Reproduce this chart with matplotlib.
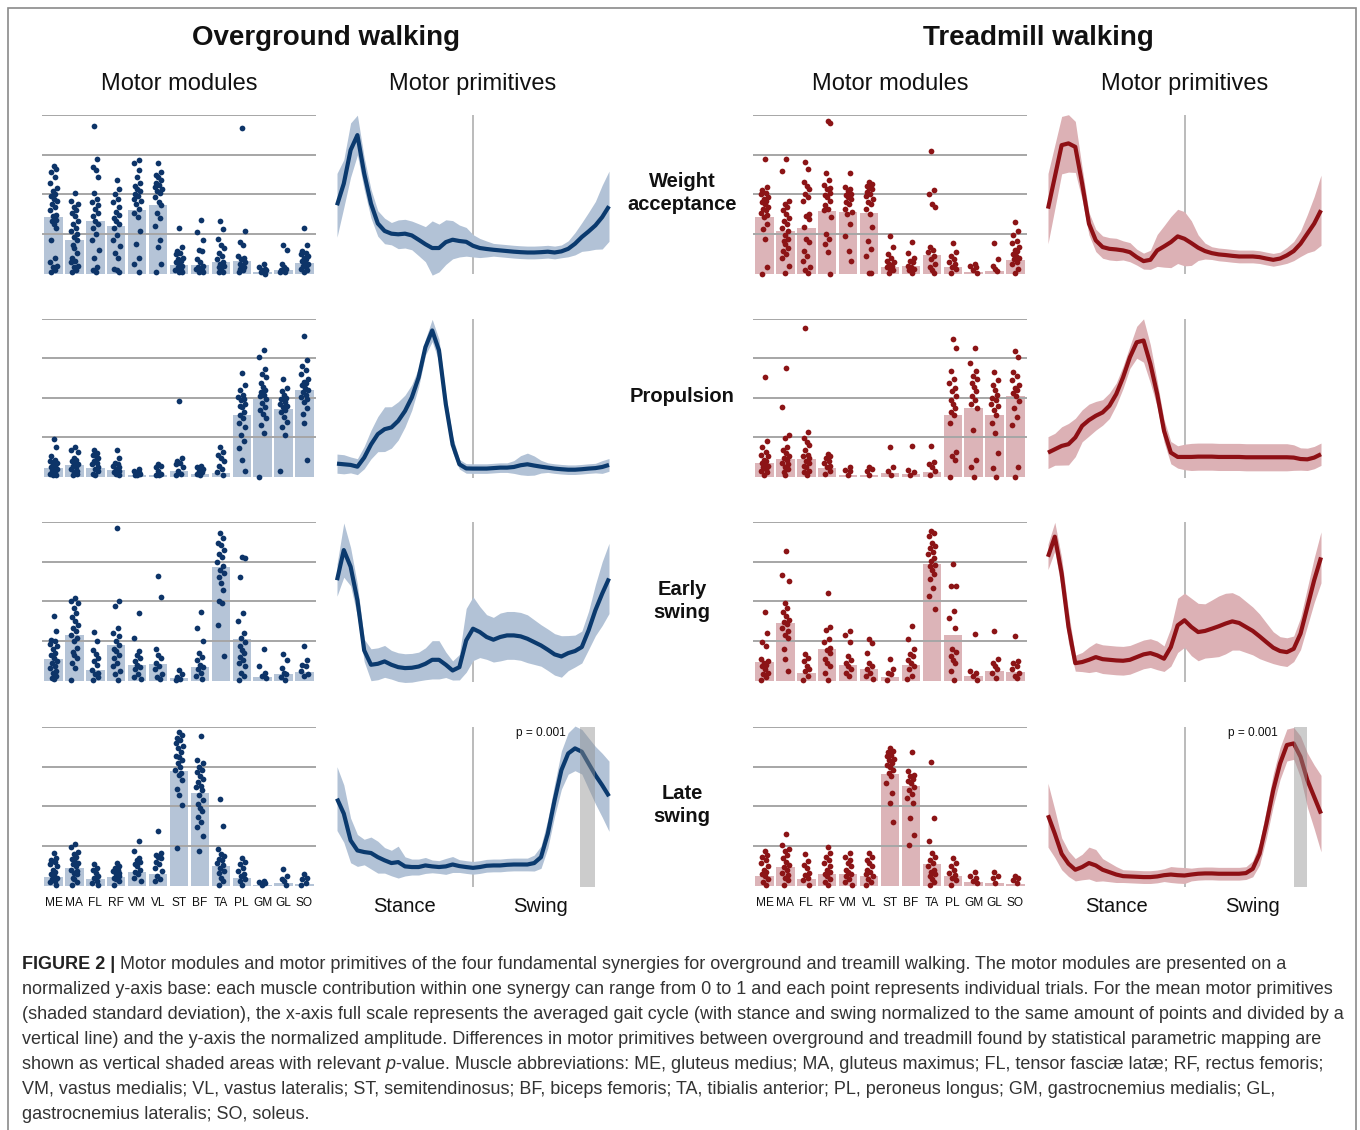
import numpy as np
import matplotlib
matplotlib.use("Agg")
import matplotlib.pyplot as plt
from matplotlib.patches import Rectangle

plt.rcParams['font.family'] = ['Liberation Sans', 'DejaVu Sans']

# ---------------- DATA ----------------
MUSCLES = ["ME", "MA", "FL", "RF", "VM", "VL", "ST", "BF", "TA", "PL", "GM", "GL", "SO"]
SYNERGIES = ["Weight\nacceptance", "Propulsion", "Early\nswing", "Late\nswing"]
GAIT = list(range(0, 201, 5))  # samples: 0-100 stance, 100-200 swing

# Motor modules: bar heights (mean)
OG_WA_BAR = [0.355, 0.21, 0.33, 0.30, 0.40, 0.435, 0.055, 0.055, 0.07, 0.08, 0.01, 0.02, 0.068]
OG_PR_BAR = [0.055, 0.075, 0.055, 0.045, 0.013, 0.013, 0.038, 0.02, 0.027, 0.39, 0.495, 0.43, 0.547]
OG_ES_BAR = [0.138, 0.29, 0.065, 0.226, 0.10, 0.107, 0.017, 0.086, 0.713, 0.262, 0.023, 0.038, 0.052]
OG_LS_BAR = [0.055, 0.108, 0.038, 0.055, 0.085, 0.07, 0.72, 0.583, 0.123, 0.049, 0.006, 0.017, 0.01]
TM_WA_BAR = [0.355, 0.266, 0.29, 0.397, 0.387, 0.38, 0.044, 0.049, 0.116, 0.038, 0.01, 0.017, 0.087]
TM_PR_BAR = [0.09, 0.112, 0.112, 0.055, 0.01, 0.01, 0.023, 0.02, 0.03, 0.392, 0.435, 0.392, 0.508]
TM_ES_BAR = [0.116, 0.364, 0.048, 0.20, 0.099, 0.074, 0.023, 0.10, 0.733, 0.29, 0.027, 0.057, 0.053]
TM_LS_BAR = [0.057, 0.116, 0.04, 0.074, 0.074, 0.061, 0.705, 0.63, 0.137, 0.057, 0.019, 0.015, 0.01]

# Motor modules: individual trials
OG_WA_PTS = [
    [0.68, 0.66, 0.64, 0.61, 0.57, 0.54, 0.52, 0.50, 0.49, 0.47, 0.46, 0.44, 0.42, 0.40, 0.37, 0.36, 0.34, 0.33, 0.31, 0.29, 0.21, 0.10, 0.07, 0.05, 0.04, 0.02, 0.01],
    [0.51, 0.46, 0.44, 0.42, 0.40, 0.38, 0.36, 0.33, 0.31, 0.29, 0.27, 0.25, 0.23, 0.21, 0.18, 0.16, 0.13, 0.10, 0.08, 0.07, 0.05, 0.04, 0.02, 0.01],
    [0.93, 0.725, 0.67, 0.65, 0.61, 0.51, 0.47, 0.45, 0.43, 0.41, 0.38, 0.36, 0.33, 0.31, 0.29, 0.25, 0.21, 0.15, 0.10, 0.04, 0.02, 0.01],
    [0.59, 0.53, 0.50, 0.47, 0.45, 0.42, 0.39, 0.37, 0.35, 0.33, 0.31, 0.29, 0.24, 0.21, 0.175, 0.13, 0.10, 0.03, 0.02, 0.01],
    [0.715, 0.70, 0.65, 0.61, 0.57, 0.55, 0.53, 0.52, 0.50, 0.49, 0.47, 0.46, 0.44, 0.41, 0.38, 0.355, 0.27, 0.185, 0.10, 0.06, 0.01],
    [0.70, 0.64, 0.62, 0.61, 0.59, 0.57, 0.56, 0.545, 0.53, 0.52, 0.51, 0.48, 0.45, 0.43, 0.38, 0.35, 0.30, 0.21, 0.165, 0.06, 0.01],
    [0.29, 0.17, 0.14, 0.13, 0.12, 0.10, 0.09, 0.08, 0.07, 0.06, 0.05, 0.04, 0.03, 0.02, 0.02, 0.01, 0.01],
    [0.34, 0.26, 0.21, 0.15, 0.14, 0.09, 0.07, 0.05, 0.04, 0.03, 0.03, 0.02, 0.01, 0.01],
    [0.33, 0.28, 0.22, 0.18, 0.16, 0.13, 0.11, 0.09, 0.07, 0.06, 0.05, 0.04, 0.02, 0.01, 0.01],
    [0.92, 0.27, 0.20, 0.18, 0.11, 0.10, 0.09, 0.07, 0.06, 0.05, 0.04, 0.03, 0.02, 0.01],
    [0.06, 0.04, 0.03, 0.02, 0.02, 0.01, 0.01, 0.0],
    [0.18, 0.15, 0.06, 0.04, 0.03, 0.02, 0.01, 0.01],
    [0.29, 0.18, 0.14, 0.13, 0.12, 0.11, 0.10, 0.09, 0.08, 0.07, 0.06, 0.05, 0.04, 0.03, 0.02, 0.01],
]
OG_PR_PTS = [
    [0.24, 0.19, 0.13, 0.11, 0.10, 0.09, 0.08, 0.07, 0.06, 0.05, 0.05, 0.04, 0.03, 0.02, 0.01, 0.01],
    [0.19, 0.17, 0.16, 0.12, 0.11, 0.10, 0.09, 0.08, 0.07, 0.06, 0.05, 0.04, 0.03, 0.02, 0.01],
    [0.17, 0.15, 0.14, 0.13, 0.12, 0.10, 0.09, 0.08, 0.06, 0.05, 0.04, 0.02, 0.01],
    [0.17, 0.12, 0.09, 0.08, 0.07, 0.06, 0.05, 0.04, 0.03, 0.02, 0.01],
    [0.05, 0.04, 0.03, 0.02, 0.02, 0.01, 0.01],
    [0.08, 0.07, 0.06, 0.04, 0.02, 0.01, 0.01],
    [0.48, 0.12, 0.10, 0.09, 0.08, 0.06, 0.04, 0.02, 0.01],
    [0.07, 0.06, 0.05, 0.04, 0.03, 0.02, 0.01],
    [0.19, 0.16, 0.14, 0.12, 0.10, 0.07, 0.05, 0.03, 0.01],
    [0.656, 0.58, 0.55, 0.52, 0.505, 0.49, 0.485, 0.46, 0.45, 0.44, 0.41, 0.39, 0.37, 0.34, 0.315, 0.265, 0.23, 0.18, 0.105, 0.035],
    [0.80, 0.757, 0.68, 0.65, 0.63, 0.59, 0.57, 0.55, 0.537, 0.52, 0.51, 0.495, 0.47, 0.44, 0.42, 0.40, 0.37, 0.327, 0.275, 0.0],
    [0.62, 0.564, 0.54, 0.516, 0.50, 0.49, 0.474, 0.46, 0.45, 0.44, 0.42, 0.41, 0.38, 0.35, 0.317, 0.264, 0.038],
    [0.887, 0.736, 0.70, 0.673, 0.65, 0.62, 0.60, 0.59, 0.58, 0.56, 0.55, 0.537, 0.52, 0.505, 0.49, 0.474, 0.438, 0.40, 0.342, 0.107],
]
OG_ES_PTS = [
    [0.405, 0.31, 0.258, 0.25, 0.23, 0.216, 0.20, 0.174, 0.16, 0.143, 0.12, 0.111, 0.09, 0.08, 0.06, 0.048, 0.03, 0.017, 0.01],
    [0.52, 0.50, 0.49, 0.46, 0.426, 0.40, 0.373, 0.35, 0.331, 0.31, 0.289, 0.27, 0.247, 0.205, 0.18, 0.16, 0.143, 0.11, 0.08, 0.006],
    [0.306, 0.247, 0.195, 0.17, 0.143, 0.12, 0.10, 0.069, 0.05, 0.038, 0.02, 0.006],
    [0.96, 0.50, 0.47, 0.331, 0.30, 0.279, 0.25, 0.226, 0.20, 0.184, 0.16, 0.143, 0.11, 0.09, 0.06, 0.038, 0.006],
    [0.426, 0.268, 0.184, 0.16, 0.143, 0.12, 0.10, 0.085, 0.07, 0.04, 0.02, 0.01],
    [0.66, 0.524, 0.199, 0.164, 0.14, 0.111, 0.09, 0.07, 0.04, 0.02, 0.01],
    [0.069, 0.038, 0.02, 0.01, 0.006],
    [0.432, 0.331, 0.247, 0.174, 0.15, 0.132, 0.10, 0.085, 0.07, 0.05, 0.03, 0.01],
    [0.93, 0.90, 0.87, 0.855, 0.824, 0.80, 0.78, 0.75, 0.72, 0.70, 0.677, 0.65, 0.614, 0.572, 0.50, 0.49, 0.352, 0.157],
    [0.782, 0.775, 0.656, 0.426, 0.373, 0.30, 0.268, 0.24, 0.216, 0.19, 0.174, 0.15, 0.132, 0.11, 0.09, 0.05, 0.03, 0.006],
    [0.20, 0.09, 0.05, 0.03, 0.017],
    [0.17, 0.132, 0.08, 0.05, 0.038, 0.02, 0.006],
    [0.22, 0.132, 0.10, 0.09, 0.06, 0.04, 0.03],
]
OG_LS_PTS = [
    [0.208, 0.176, 0.16, 0.15, 0.133, 0.12, 0.10, 0.085, 0.07, 0.06, 0.05, 0.038, 0.03, 0.02, 0.006],
    [0.26, 0.24, 0.21, 0.197, 0.18, 0.165, 0.15, 0.14, 0.133, 0.12, 0.10, 0.09, 0.08, 0.07, 0.05, 0.038, 0.02, 0.006],
    [0.138, 0.112, 0.10, 0.08, 0.06, 0.046, 0.03, 0.017, 0.006],
    [0.144, 0.123, 0.11, 0.10, 0.09, 0.08, 0.07, 0.06, 0.05, 0.04, 0.03, 0.006],
    [0.278, 0.218, 0.176, 0.16, 0.15, 0.133, 0.12, 0.10, 0.085, 0.07, 0.05, 0.028],
    [0.345, 0.208, 0.19, 0.18, 0.176, 0.15, 0.133, 0.11, 0.09, 0.06, 0.04, 0.028],
    [0.97, 0.95, 0.93, 0.92, 0.896, 0.88, 0.87, 0.843, 0.82, 0.81, 0.79, 0.77, 0.75, 0.727, 0.71, 0.695, 0.663, 0.61, 0.568, 0.51, 0.235],
    [0.943, 0.79, 0.77, 0.75, 0.73, 0.716, 0.69, 0.674, 0.65, 0.63, 0.62, 0.60, 0.568, 0.54, 0.515, 0.49, 0.472, 0.43, 0.40, 0.367, 0.313, 0.218],
    [0.547, 0.377, 0.229, 0.2, 0.186, 0.17, 0.16, 0.144, 0.13, 0.112, 0.09, 0.08, 0.05, 0.03, 0.006],
    [0.176, 0.15, 0.133, 0.11, 0.09, 0.07, 0.06, 0.04, 0.03, 0.006],
    [0.028, 0.02, 0.017, 0.006],
    [0.106, 0.06, 0.04, 0.028, 0.006],
    [0.07, 0.05, 0.038, 0.017, 0.006],
]
TM_WA_PTS = [
    [0.72, 0.545, 0.524, 0.51, 0.50, 0.482, 0.47, 0.46, 0.45, 0.44, 0.42, 0.41, 0.40, 0.38, 0.37, 0.355, 0.313, 0.28, 0.218, 0.038, 0.0],
    [0.72, 0.647, 0.46, 0.44, 0.42, 0.40, 0.376, 0.35, 0.33, 0.313, 0.29, 0.27, 0.24, 0.22, 0.207, 0.186, 0.16, 0.144, 0.12, 0.10, 0.05, 0.006],
    [0.704, 0.657, 0.577, 0.555, 0.535, 0.503, 0.48, 0.46, 0.376, 0.36, 0.345, 0.292, 0.218, 0.2, 0.144, 0.11, 0.08, 0.038, 0.02, 0.006],
    [0.962, 0.951, 0.636, 0.588, 0.56, 0.54, 0.535, 0.51, 0.493, 0.48, 0.46, 0.43, 0.41, 0.40, 0.355, 0.25, 0.22, 0.186, 0.133, 0.0],
    [0.634, 0.545, 0.53, 0.52, 0.50, 0.493, 0.48, 0.47, 0.45, 0.44, 0.41, 0.39, 0.376, 0.313, 0.239, 0.144, 0.08],
    [0.58, 0.567, 0.55, 0.54, 0.53, 0.514, 0.50, 0.49, 0.47, 0.45, 0.44, 0.41, 0.376, 0.292, 0.207, 0.154, 0.112, 0.006, 0.006],
    [0.239, 0.165, 0.123, 0.10, 0.08, 0.07, 0.06, 0.05, 0.04, 0.03, 0.02, 0.006],
    [0.20, 0.127, 0.10, 0.08, 0.07, 0.05, 0.04, 0.03, 0.02, 0.006],
    [0.774, 0.524, 0.503, 0.44, 0.42, 0.165, 0.15, 0.133, 0.11, 0.09, 0.06, 0.04, 0.02, 0.006],
    [0.19, 0.133, 0.11, 0.09, 0.07, 0.06, 0.04, 0.03, 0.006],
    [0.06, 0.05, 0.04, 0.02, 0.006],
    [0.19, 0.09, 0.05, 0.03, 0.017],
    [0.328, 0.27, 0.24, 0.207, 0.19, 0.165, 0.15, 0.14, 0.123, 0.11, 0.10, 0.09, 0.075, 0.06, 0.03, 0.006],
]
TM_PR_PTS = [
    [0.63, 0.23, 0.19, 0.16, 0.14, 0.13, 0.11, 0.1, 0.087, 0.08, 0.07, 0.06, 0.05, 0.04, 0.03, 0.01],
    [0.688, 0.44, 0.266, 0.245, 0.19, 0.17, 0.15, 0.13, 0.12, 0.108, 0.09, 0.08, 0.06, 0.05, 0.03, 0.01],
    [0.94, 0.283, 0.245, 0.22, 0.20, 0.17, 0.14, 0.13, 0.118, 0.1, 0.09, 0.07, 0.06, 0.04, 0.03, 0.01],
    [0.146, 0.13, 0.118, 0.1, 0.087, 0.07, 0.06, 0.04, 0.02],
    [0.06, 0.045, 0.035, 0.015],
    [0.065, 0.05, 0.035, 0.015],
    [0.19, 0.065, 0.035, 0.015],
    [0.198, 0.045, 0.03, 0.015],
    [0.196, 0.097, 0.08, 0.065, 0.035, 0.015],
    [0.873, 0.814, 0.667, 0.62, 0.593, 0.56, 0.54, 0.51, 0.487, 0.46, 0.435, 0.41, 0.392, 0.34, 0.16, 0.13, 0.108, 0.0],
    [0.814, 0.72, 0.667, 0.64, 0.62, 0.593, 0.57, 0.54, 0.51, 0.487, 0.46, 0.435, 0.297, 0.108, 0.06, 0.0],
    [0.662, 0.614, 0.58, 0.55, 0.52, 0.5, 0.487, 0.46, 0.445, 0.42, 0.392, 0.34, 0.276, 0.15, 0.055, 0.0],
    [0.797, 0.76, 0.66, 0.64, 0.614, 0.58, 0.56, 0.55, 0.53, 0.508, 0.48, 0.435, 0.38, 0.33, 0.06, 0.0],
]
TM_ES_PTS = [
    [0.43, 0.297, 0.242, 0.22, 0.133, 0.12, 0.11, 0.10, 0.09, 0.07, 0.05, 0.04, 0.02, 0.006],
    [0.817, 0.665, 0.63, 0.486, 0.46, 0.43, 0.41, 0.38, 0.37, 0.354, 0.33, 0.31, 0.29, 0.27, 0.196, 0.133, 0.06],
    [0.17, 0.143, 0.12, 0.09, 0.07, 0.06, 0.03, 0.006],
    [0.55, 0.34, 0.318, 0.26, 0.24, 0.206, 0.19, 0.175, 0.133, 0.11, 0.09, 0.05, 0.006],
    [0.312, 0.29, 0.242, 0.154, 0.13, 0.11, 0.09, 0.07, 0.05, 0.03],
    [0.26, 0.234, 0.175, 0.11, 0.09, 0.07, 0.05, 0.03, 0.01],
    [0.137, 0.07, 0.05, 0.04, 0.006],
    [0.343, 0.26, 0.196, 0.17, 0.154, 0.13, 0.11, 0.09, 0.07, 0.03, 0.01],
    [0.943, 0.93, 0.91, 0.87, 0.85, 0.838, 0.81, 0.796, 0.77, 0.754, 0.73, 0.72, 0.70, 0.67, 0.638, 0.585, 0.533, 0.448],
    [0.737, 0.596, 0.596, 0.438, 0.396, 0.333, 0.196, 0.18, 0.154, 0.13, 0.11, 0.06, 0.006],
    [0.295, 0.06, 0.045, 0.03, 0.006],
    [0.312, 0.133, 0.11, 0.09, 0.07, 0.05, 0.017],
    [0.28, 0.122, 0.11, 0.09, 0.07, 0.05, 0.03, 0.017],
]
TM_LS_PTS = [
    [0.215, 0.194, 0.18, 0.162, 0.14, 0.12, 0.10, 0.088, 0.07, 0.057, 0.04, 0.025, 0.006],
    [0.324, 0.257, 0.23, 0.215, 0.19, 0.173, 0.15, 0.13, 0.115, 0.10, 0.08, 0.067, 0.05, 0.035, 0.006],
    [0.20, 0.152, 0.13, 0.11, 0.08, 0.067, 0.05, 0.035, 0.006],
    [0.246, 0.204, 0.18, 0.162, 0.14, 0.12, 0.10, 0.088, 0.07, 0.057, 0.04, 0.025, 0.006],
    [0.204, 0.18, 0.162, 0.14, 0.12, 0.10, 0.088, 0.07, 0.057, 0.04, 0.025, 0.006],
    [0.208, 0.18, 0.162, 0.14, 0.12, 0.10, 0.088, 0.07, 0.057, 0.04, 0.025, 0.006],
    [0.867, 0.85, 0.84, 0.825, 0.815, 0.80, 0.79, 0.773, 0.76, 0.75, 0.73, 0.71, 0.688, 0.646, 0.583, 0.52, 0.398],
    [0.842, 0.72, 0.70, 0.688, 0.67, 0.66, 0.646, 0.62, 0.604, 0.58, 0.552, 0.52, 0.425, 0.32, 0.257],
    [0.779, 0.425, 0.278, 0.204, 0.18, 0.162, 0.14, 0.12, 0.10, 0.088, 0.07, 0.057, 0.04, 0.025, 0.006],
    [0.173, 0.141, 0.12, 0.10, 0.08, 0.067, 0.05, 0.035, 0.006],
    [0.088, 0.06, 0.046, 0.03, 0.015],
    [0.088, 0.06, 0.046, 0.015],
    [0.061, 0.05, 0.035, 0.015],
]

# Motor primitives: mean and standard deviation over the gait cycle
OG_WA_MEAN = [0.434, 0.57, 0.78, 0.874, 0.633, 0.444, 0.32, 0.273, 0.256, 0.252, 0.256, 0.245, 0.218, 0.19, 0.166, 0.166, 0.203, 0.218, 0.21, 0.205, 0.18, 0.166, 0.16, 0.155, 0.151, 0.147, 0.143, 0.14, 0.138, 0.138, 0.14, 0.143, 0.138, 0.145, 0.161, 0.193, 0.235, 0.27, 0.308, 0.36, 0.428]
OG_WA_SD = [0.2, 0.15, 0.17, 0.125, 0.1, 0.09, 0.08, 0.08, 0.07, 0.09, 0.09, 0.09, 0.1, 0.11, 0.17, 0.15, 0.14, 0.12, 0.1, 0.09, 0.07, 0.06, 0.05, 0.04, 0.04, 0.04, 0.04, 0.04, 0.04, 0.04, 0.04, 0.04, 0.04, 0.04, 0.05, 0.07, 0.09, 0.12, 0.15, 0.2, 0.22]
OG_PR_MEAN = [0.09, 0.086, 0.082, 0.071, 0.128, 0.21, 0.275, 0.306, 0.317, 0.358, 0.42, 0.505, 0.63, 0.82, 0.925, 0.80, 0.463, 0.21, 0.086, 0.06, 0.059, 0.059, 0.059, 0.062, 0.065, 0.065, 0.069, 0.08, 0.086, 0.078, 0.071, 0.065, 0.059, 0.055, 0.052, 0.052, 0.055, 0.059, 0.062, 0.069, 0.082]
OG_PR_SD = [0.06, 0.06, 0.05, 0.05, 0.07, 0.09, 0.11, 0.14, 0.13, 0.12, 0.1, 0.08, 0.06, 0.05, 0.07, 0.07, 0.06, 0.05, 0.03, 0.03, 0.03, 0.03, 0.03, 0.03, 0.03, 0.03, 0.04, 0.06, 0.07, 0.06, 0.04, 0.03, 0.03, 0.03, 0.03, 0.03, 0.03, 0.03, 0.03, 0.04, 0.04]
OG_ES_MEAN = [0.635, 0.824, 0.72, 0.51, 0.195, 0.105, 0.111, 0.126, 0.105, 0.09, 0.084, 0.086, 0.094, 0.111, 0.136, 0.136, 0.105, 0.069, 0.09, 0.258, 0.331, 0.31, 0.279, 0.262, 0.279, 0.289, 0.289, 0.283, 0.268, 0.247, 0.226, 0.199, 0.17, 0.157, 0.178, 0.191, 0.216, 0.321, 0.447, 0.551, 0.646]
OG_ES_SD = [0.1, 0.17, 0.12, 0.1, 0.07, 0.1, 0.1, 0.1, 0.09, 0.09, 0.09, 0.09, 0.09, 0.1, 0.12, 0.12, 0.08, 0.06, 0.08, 0.2, 0.2, 0.16, 0.14, 0.14, 0.15, 0.15, 0.15, 0.15, 0.15, 0.14, 0.13, 0.13, 0.13, 0.13, 0.11, 0.1, 0.1, 0.12, 0.16, 0.2, 0.22]
OG_LS_MEAN = [0.551, 0.457, 0.289, 0.226, 0.216, 0.21, 0.184, 0.164, 0.147, 0.153, 0.126, 0.122, 0.122, 0.132, 0.126, 0.122, 0.126, 0.138, 0.128, 0.122, 0.117, 0.122, 0.13, 0.132, 0.132, 0.136, 0.138, 0.138, 0.138, 0.147, 0.184, 0.331, 0.541, 0.73, 0.834, 0.866, 0.845, 0.771, 0.698, 0.635, 0.566]
OG_LS_SD = [0.2, 0.18, 0.14, 0.1, 0.08, 0.1, 0.1, 0.08, 0.08, 0.1, 0.06, 0.05, 0.05, 0.05, 0.04, 0.04, 0.05, 0.05, 0.04, 0.04, 0.04, 0.04, 0.04, 0.04, 0.04, 0.04, 0.04, 0.04, 0.04, 0.05, 0.07, 0.09, 0.1, 0.12, 0.13, 0.14, 0.14, 0.16, 0.18, 0.2, 0.22]
TM_WA_MEAN = [0.413, 0.612, 0.811, 0.822, 0.80, 0.57, 0.319, 0.214, 0.172, 0.161, 0.157, 0.151, 0.14, 0.109, 0.084, 0.092, 0.151, 0.176, 0.203, 0.239, 0.224, 0.197, 0.168, 0.147, 0.134, 0.126, 0.122, 0.117, 0.113, 0.113, 0.113, 0.109, 0.10, 0.092, 0.10, 0.12, 0.147, 0.193, 0.256, 0.319, 0.403]
TM_WA_SD = [0.22, 0.2, 0.18, 0.18, 0.16, 0.1, 0.07, 0.07, 0.07, 0.07, 0.07, 0.06, 0.06, 0.05, 0.05, 0.06, 0.1, 0.13, 0.16, 0.17, 0.17, 0.14, 0.08, 0.05, 0.04, 0.04, 0.04, 0.04, 0.04, 0.04, 0.04, 0.04, 0.04, 0.04, 0.04, 0.05, 0.06, 0.08, 0.12, 0.17, 0.22]
TM_PR_MEAN = [0.159, 0.18, 0.201, 0.212, 0.254, 0.327, 0.363, 0.39, 0.411, 0.453, 0.526, 0.631, 0.757, 0.851, 0.862, 0.715, 0.526, 0.296, 0.159, 0.132, 0.132, 0.132, 0.134, 0.134, 0.134, 0.132, 0.132, 0.132, 0.132, 0.13, 0.13, 0.13, 0.13, 0.13, 0.13, 0.13, 0.128, 0.119, 0.117, 0.128, 0.149]
TM_PR_SD = [0.1, 0.1, 0.12, 0.13, 0.12, 0.1, 0.1, 0.09, 0.08, 0.08, 0.07, 0.07, 0.07, 0.1, 0.136, 0.12, 0.08, 0.07, 0.07, 0.07, 0.08, 0.085, 0.085, 0.085, 0.085, 0.085, 0.085, 0.085, 0.085, 0.085, 0.085, 0.085, 0.085, 0.085, 0.085, 0.085, 0.08, 0.07, 0.07, 0.07, 0.07]
TM_ES_MEAN = [0.782, 0.908, 0.677, 0.342, 0.115, 0.122, 0.136, 0.153, 0.14, 0.136, 0.132, 0.13, 0.136, 0.153, 0.17, 0.178, 0.164, 0.143, 0.216, 0.352, 0.384, 0.342, 0.31, 0.317, 0.331, 0.346, 0.363, 0.377, 0.367, 0.342, 0.317, 0.283, 0.247, 0.212, 0.191, 0.184, 0.205, 0.30, 0.467, 0.635, 0.778]
TM_ES_SD = [0.08, 0.09, 0.1, 0.1, 0.05, 0.06, 0.08, 0.09, 0.09, 0.09, 0.09, 0.09, 0.09, 0.09, 0.09, 0.09, 0.09, 0.08, 0.12, 0.17, 0.17, 0.18, 0.18, 0.17, 0.18, 0.19, 0.19, 0.18, 0.17, 0.16, 0.15, 0.14, 0.12, 0.1, 0.09, 0.09, 0.08, 0.1, 0.12, 0.14, 0.16]
TM_LS_MEAN = [0.447, 0.331, 0.205, 0.143, 0.105, 0.122, 0.147, 0.132, 0.105, 0.09, 0.075, 0.065, 0.063, 0.061, 0.059, 0.059, 0.063, 0.071, 0.075, 0.071, 0.069, 0.075, 0.08, 0.082, 0.082, 0.08, 0.08, 0.08, 0.08, 0.084, 0.111, 0.205, 0.394, 0.604, 0.771, 0.887, 0.897, 0.813, 0.667, 0.562, 0.457]
TM_LS_SD = [0.2, 0.15, 0.1, 0.08, 0.07, 0.08, 0.1, 0.1, 0.07, 0.06, 0.05, 0.04, 0.04, 0.04, 0.04, 0.04, 0.04, 0.04, 0.05, 0.05, 0.05, 0.04, 0.04, 0.04, 0.04, 0.04, 0.04, 0.04, 0.04, 0.04, 0.05, 0.07, 0.09, 0.1, 0.1, 0.1, 0.1, 0.13, 0.17, 0.2, 0.24]

# Statistical parametric mapping difference (late swing)
SPM_OG = (179, 190)
SPM_TM = (180, 190)
SPM_LABEL = "p = 0.001"

CAPTION_BOLD = "FIGURE 2 |"
CAPTION_LINES = [
    " Motor modules and motor primitives of the four fundamental synergies for overground and treamill walking. The motor modules are presented on a",
    "normalized y-axis base: each muscle contribution within one synergy can range from 0 to 1 and each point represents individual trials. For the mean motor primitives",
    "(shaded standard deviation), the x-axis full scale represents the averaged gait cycle (with stance and swing normalized to the same amount of points and divided by a",
    "vertical line) and the y-axis the normalized amplitude. Differences in motor primitives between overground and treadmill found by statistical parametric mapping are",
    ["shown as vertical shaded areas with relevant ", "p", "-value. Muscle abbreviations: ME, gluteus medius; MA, gluteus maximus; FL, tensor fasciæ latæ; RF, rectus femoris;"],
    "VM, vastus medialis; VL, vastus lateralis; ST, semitendinosus; BF, biceps femoris; TA, tibialis anterior; PL, peroneus longus; GM, gastrocnemius medialis; GL,",
    "gastrocnemius lateralis; SO, soleus.",
]

# ---------------- STYLE ----------------
W, H = 1360, 1130
BLUE_DOT, BLUE_BAR, BLUE_LINE, BLUE_BAND = "#0d3468", "#b5c4d7", "#0b3a6e", "#b2c2d6"
RED_DOT, RED_BAR, RED_LINE, RED_BAND = "#8c1416", "#dcb4b8", "#8e1015", "#dcb1b5"
GRID = "#a6a6a6"
VLINE = "#a8a8a8"
JIT = np.array([0.0, 0.12, -0.1, 0.05, -0.15, 0.17, -0.04, 0.09, -0.13, 0.02,
                0.15, -0.07, 0.07, -0.17, 0.11, -0.02, 0.14, -0.09])

fig = plt.figure(figsize=(W / 100, H / 100), dpi=100)


def px_axes(x0, y0, x1, y1):
    return fig.add_axes([x0 / W, 1 - y1 / H, (x1 - x0) / W, (y1 - y0) / H])


def fx(x):
    return x / W


def fy(y):
    return 1 - y / H


ROW_TOP = [115, 318.5, 522, 727]
ROW_H = 158.5

conditions = [
    dict(mod_x=(42, 316), prim_x=(337, 609), dot=BLUE_DOT, bar=BLUE_BAR, line=BLUE_LINE, band=BLUE_BAND,
         bars=[OG_WA_BAR, OG_PR_BAR, OG_ES_BAR, OG_LS_BAR],
         pts=[OG_WA_PTS, OG_PR_PTS, OG_ES_PTS, OG_LS_PTS],
         mean=[OG_WA_MEAN, OG_PR_MEAN, OG_ES_MEAN, OG_LS_MEAN],
         sd=[OG_WA_SD, OG_PR_SD, OG_ES_SD, OG_LS_SD], spm=SPM_OG,
         title="Overground walking", title_x=326),
    dict(mod_x=(753, 1027), prim_x=(1048, 1321), dot=RED_DOT, bar=RED_BAR, line=RED_LINE, band=RED_BAND,
         bars=[TM_WA_BAR, TM_PR_BAR, TM_ES_BAR, TM_LS_BAR],
         pts=[TM_WA_PTS, TM_PR_PTS, TM_ES_PTS, TM_LS_PTS],
         mean=[TM_WA_MEAN, TM_PR_MEAN, TM_ES_MEAN, TM_LS_MEAN],
         sd=[TM_WA_SD, TM_PR_SD, TM_ES_SD, TM_LS_SD], spm=SPM_TM,
         title="Treadmill walking", title_x=1038),
]

xs = np.arange(len(MUSCLES))
for c in conditions:
    for r in range(4):
        top = ROW_TOP[r]
        bot = top + ROW_H
        # ---- motor modules ----
        ax = px_axes(c["mod_x"][0], top, c["mod_x"][1], bot)
        ax.set_xlim(-0.55, len(MUSCLES) - 0.45)
        ax.set_ylim(0, 1)
        ax.bar(xs, c["bars"][r], width=0.88, color=c["bar"], zorder=1, linewidth=0)
        for yv in (0.25, 0.5, 0.75, 1.0):
            ax.axhline(yv, color=GRID, lw=1.4, zorder=2)
        for i, vals in enumerate(c["pts"][r]):
            vals = np.asarray(vals)
            jx = i + JIT[(np.arange(len(vals)) + 3 * i) % len(JIT)]
            ax.scatter(jx, vals, s=17, color=c["dot"], linewidths=0, zorder=3, clip_on=False)
        for s in ax.spines.values():
            s.set_visible(False)
        ax.set_yticks([])
        if r == 3:
            ax.set_xticks(xs)
            ax.set_xticklabels(MUSCLES, fontsize=8.6, color="#111111")
            ax.tick_params(axis="x", length=0, pad=8)
        else:
            ax.set_xticks([])
        # ---- motor primitives ----
        ap = px_axes(c["prim_x"][0], top, c["prim_x"][1], bot + 1)
        ap.set_xlim(0, 200)
        ap.set_ylim(0, 1)
        m = np.asarray(c["mean"][r])
        sd = np.asarray(c["sd"][r])
        ap.axvline(100, color=VLINE, lw=1.1, zorder=1)
        ap.fill_between(GAIT, m - sd, m + sd, color=c["band"], linewidth=0, zorder=2, clip_on=False)
        ap.plot(GAIT, m, color=c["line"], lw=3.0, zorder=3, clip_on=False, solid_capstyle="butt")
        if r == 3:
            ap.axvspan(c["spm"][0], c["spm"][1], color="#8f8f8f", alpha=0.45, lw=0, zorder=4)
            ap.text(150, 0.965, SPM_LABEL, fontsize=8.6, ha="center", va="center", color="#111111")
        ap.axis("off")
    # titles
    fig.text(fx(c["title_x"]), fy(38), c["title"], fontsize=20, fontweight="bold",
             ha="center", va="center", color="#111111")
    fig.text(fx((c["mod_x"][0] + c["mod_x"][1]) / 2), fy(84), "Motor modules", fontsize=17,
             ha="center", va="center", color="#111111")
    fig.text(fx((c["prim_x"][0] + c["prim_x"][1]) / 2), fy(84), "Motor primitives", fontsize=17,
             ha="center", va="center", color="#111111")
    px0, px1 = c["prim_x"]
    fig.text(fx(px0 + (px1 - px0) * 0.25), fy(906), "Stance", fontsize=14.5,
             ha="center", va="center", color="#111111")
    fig.text(fx(px0 + (px1 - px0) * 0.75), fy(906), "Swing", fontsize=14.5,
             ha="center", va="center", color="#111111")

ROW_LABEL_Y = [193, 397, 601, 805]
for lab, yc in zip(SYNERGIES, ROW_LABEL_Y):
    fig.text(fx(682), fy(yc), lab, fontsize=14.5, fontweight="bold", ha="center", va="center",
             color="#111111", linespacing=1.25)

# ---------------- CAPTION ----------------
renderer = fig.canvas.get_renderer()


def width_of(txt, size, **kw):
    t = fig.text(0, 0, txt, fontsize=size, **kw)
    w = t.get_window_extent(renderer).width
    t.remove()
    return w


base = 12.0
w_line1 = width_of(CAPTION_BOLD, base, fontweight="bold") + width_of(CAPTION_LINES[0], base)
cap_size = base * 1270.0 / w_line1
CAP_COL = "#333333"
x0 = 22
for k, line in enumerate(CAPTION_LINES):
    yb = fy(969 + 25 * k)
    if k == 0:
        fig.text(fx(x0), yb, CAPTION_BOLD, fontsize=cap_size, fontweight="bold", color="#222222", va="baseline")
        wb = width_of(CAPTION_BOLD, cap_size, fontweight="bold")
        fig.text(fx(x0 + wb), yb, line, fontsize=cap_size, color=CAP_COL, va="baseline")
    elif isinstance(line, list):
        xc = x0
        for j, part in enumerate(line):
            style = "italic" if j == 1 else "normal"
            fig.text(fx(xc), yb, part, fontsize=cap_size, style=style, color=CAP_COL, va="baseline")
            xc += width_of(part, cap_size, style=style)
    else:
        fig.text(fx(x0), yb, line, fontsize=cap_size, color=CAP_COL, va="baseline")

# frame
fig.patches.append(Rectangle((fx(7.5), fy(1140)), fx(1356 - 7.5), (1140 - 7.5) / H,
                             transform=fig.transFigure, fill=False, edgecolor="#8a8a8a", lw=1.2))

fig.savefig("out.png", dpi=100)
